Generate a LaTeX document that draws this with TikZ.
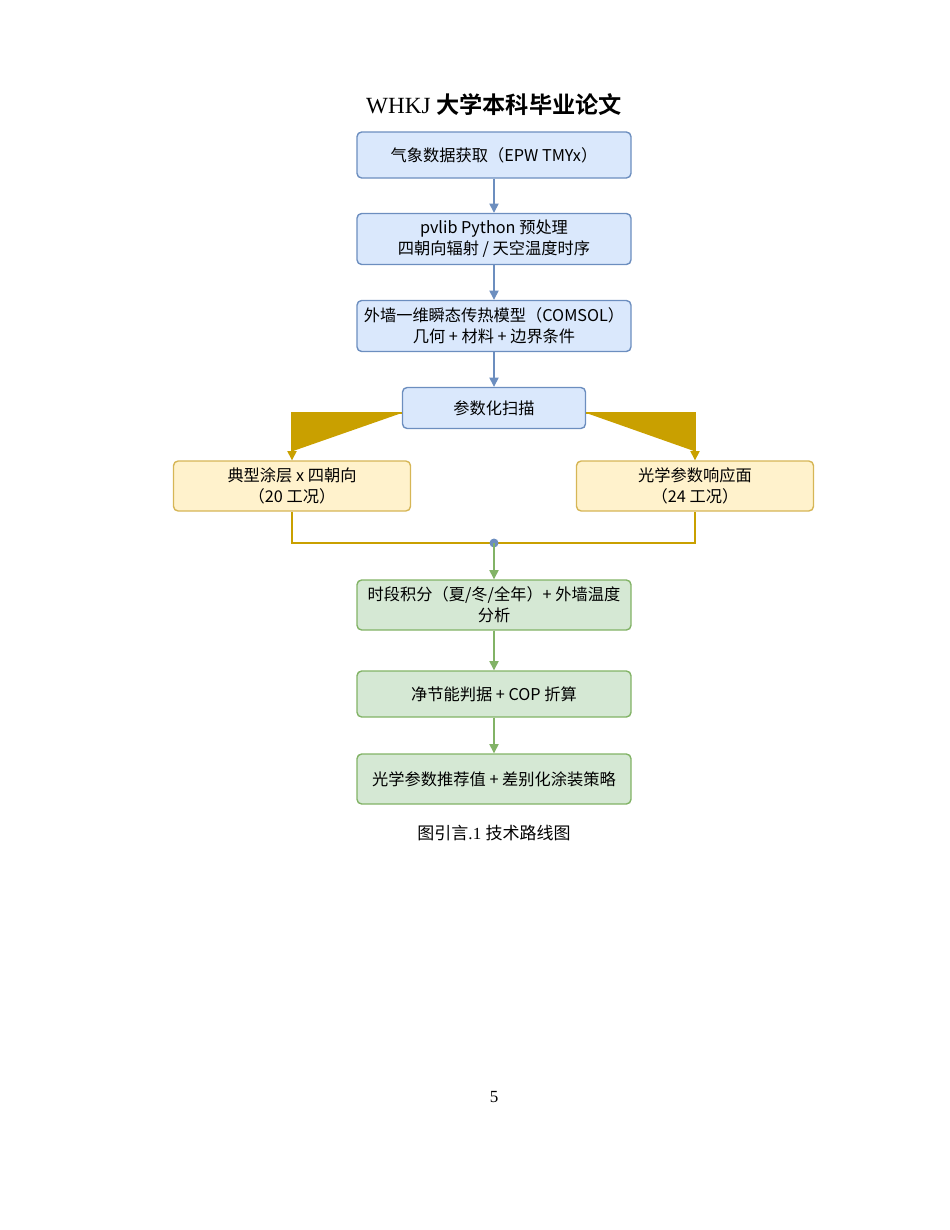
\documentclass[tikz,border=0pt]{standalone}
\usepackage{fontspec}
\setmainfont{Liberation Serif}
\newfontfamily\cjk{Noto Sans CJK SC}
\newfontfamily\cjkb{Noto Sans CJK SC Bold}
\usetikzlibrary{arrows.meta,positioning}

\definecolor{bluefill}{HTML}{DAE8FC}
\definecolor{blueline}{HTML}{6C8EBF}
\definecolor{yelfill}{HTML}{FFF2CC}
\definecolor{yelline}{HTML}{D6B656}
\definecolor{yelarrow}{HTML}{C9A000}
\definecolor{grnfill}{HTML}{D5E8D4}
\definecolor{grnline}{HTML}{82B366}

\tikzset{
  box/.style={rectangle, rounded corners=3pt, line width=0.9pt, align=center,
    font=\cjk\fontsize{10.5}{13.5}\selectfont, inner sep=0pt},
  bluebox/.style={box, fill=bluefill, draw=blueline, minimum width=274\px, minimum height=#1},
  yelbox/.style={box, fill=yelfill, draw=yelline, minimum width=237\px, minimum height=50\px},
  grnbox/.style={box, fill=grnfill, draw=grnline, minimum width=274\px, minimum height=#1},
  flow/.style={-{Triangle[length=6pt,width=6pt]}, line width=0.9pt},
}
\newlength{\px}
\setlength{\px}{0.02273cm}

\begin{document}
\begin{tikzpicture}[x=\px,y=-\px]
  \useasboundingbox (0,0) rectangle (950,1230);

  \node[font=\fontsize{15}{18}\selectfont] (head) at (494,105) {WHKJ {\cjkb 大学本科毕业论文}};

  \node[bluebox=46\px] (data)  at (494,155) {气象数据获取（EPW TMYx）};
  \node[bluebox=51\px] (prep)  at (494,239) {pvlib Python 预处理\\四朝向辐射 / 天空温度时序};
  \node[bluebox=51\px] (model) at (494,326) {外墙一维瞬态传热模型（COMSOL）\\几何 + 材料 + 边界条件};
  \node[bluebox=41\px, minimum width=183\px] (sweep) at (494,408) {参数化扫描};

  \node[yelbox] (typ)  at (292,486) {典型涂层 x 四朝向\\（20 工况）};
  \node[yelbox] (resp) at (695,486) {光学参数响应面\\（24 工况）};

  \node[grnbox=50\px] (integ) at (494,605) {时段积分（夏/冬/全年）+ 外墙温度\\分析};
  \node[grnbox=46\px] (crit)  at (494,694) {净节能判据 + COP 折算};
  \node[grnbox=50\px] (rec)   at (494,779) {光学参数推荐值 + 差别化涂装策略};

  \coordinate (join) at (494,543);

  % main line
  \draw[flow, draw=blueline, fill=blueline] (data) -- (prep);
  \draw[flow, draw=blueline, fill=blueline] (prep) -- (model);
  \draw[flow, draw=blueline, fill=blueline] (model) -- (sweep);

  % branches
  \draw[flow, draw=yelarrow, fill=yelarrow] ([yshift=-5\px]sweep.west) -| (typ.north);
  \draw[flow, draw=yelarrow, fill=yelarrow] ([yshift=-5\px]sweep.east) -| (resp.north);
  \draw[yelarrow, line width=0.9pt] (typ.south) |- (join) -| (resp.south);
  \fill[blueline] (join) circle (4.5\px);

  \draw[flow, draw=grnline, fill=grnline] (join) -- (integ);
  \draw[flow, draw=grnline, fill=grnline] (integ) -- (crit);
  \draw[flow, draw=grnline, fill=grnline] (crit) -- (rec);

  \node[font=\fontsize{11}{13}\selectfont] (cap) at (494,833) {{\cjk 图引言}.1\ {\cjk 技术路线图}};
  \node[font=\fontsize{11}{13}\selectfont] (page) at (494,1097) {5};
\end{tikzpicture}
\end{document}
